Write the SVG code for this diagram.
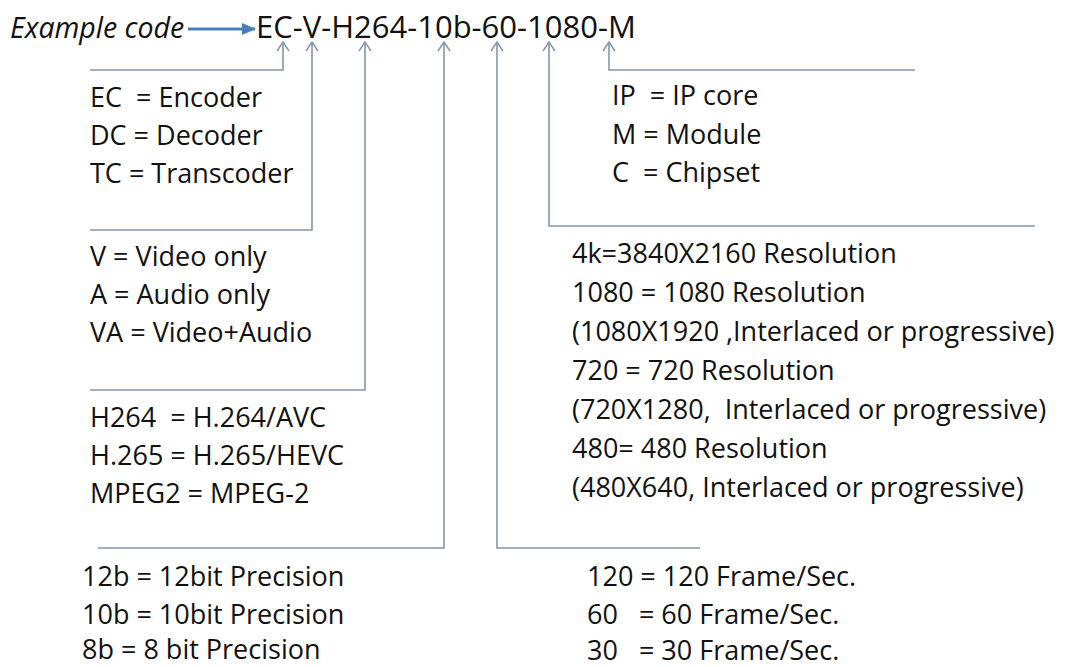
<svg xmlns="http://www.w3.org/2000/svg" width="1075" height="667" viewBox="0 0 1075 667" xml:space="preserve">
<defs>
<style>
text{font-family:"Open Sans","Noto Sans",sans-serif;font-size:27px;fill:#111;white-space:pre}
.ttl{font-size:28.5px;font-style:italic}
.code{font-size:31px}
.ln{fill:none;stroke:#8595ad;stroke-width:1.6}
.hd{fill:none;stroke:#8595ad;stroke-width:1.5}
</style>
<marker id="up" markerWidth="14" markerHeight="14" refX="7" refY="1" orient="0" markerUnits="userSpaceOnUse">
<path d="M1,10 L7,1 L13,10" class="hd"/>
</marker>
<marker id="blue" markerWidth="16" markerHeight="16" refX="14" refY="8" orient="auto" markerUnits="userSpaceOnUse">
<path d="M1,2 L15,8 L1,14 Z" fill="#4a7ebb"/>
</marker>
</defs>
<g id="header">
<text class="ttl" x="10" y="38">Example code</text>
<text class="code" x="256" y="38">EC-V-H264-10b-60-1080-M</text>
</g>
<g id="connectors">
<line x1="188" y1="29" x2="255" y2="29" stroke="#4a7ebb" stroke-width="3" marker-end="url(#blue)"/>
<polyline class="ln" points="90,70 283,70 283,42" marker-end="url(#up)"/>
<polyline class="ln" points="90,230 312,230 312,42" marker-end="url(#up)"/>
<polyline class="ln" points="90,390 365,390 365,42" marker-end="url(#up)"/>
<polyline class="ln" points="98,548 444,548 444,42" marker-end="url(#up)"/>
<polyline class="ln" points="700,548 497,548 497,42" marker-end="url(#up)"/>
<polyline class="ln" points="1035,226 549,226 549,42" marker-end="url(#up)"/>
<polyline class="ln" points="915,70 609,70 609,42" marker-end="url(#up)"/>
</g>
<g id="type">
<text x="90" y="107">EC  = Encoder</text>
<text x="90" y="145">DC = Decoder</text>
<text x="90" y="183">TC = Transcoder</text>
</g>
<g id="media">
<text x="90" y="266">V = Video only</text>
<text x="90" y="304">A = Audio only</text>
<text x="90" y="342">VA = Video+Audio</text>
</g>
<g id="codec">
<text x="90" y="427">H264  = H.264/AVC</text>
<text x="90" y="465">H.265 = H.265/HEVC</text>
<text x="90" y="503">MPEG2 = MPEG-2</text>
</g>
<g id="precision">
<text x="82" y="586">12b = 12bit Precision</text>
<text x="82" y="624">10b = 10bit Precision</text>
<text x="82" y="659">8b = 8 bit Precision</text>
</g>
<g id="product">
<text x="612" y="105">IP  = IP core</text>
<text x="612" y="144">M = Module</text>
<text x="612" y="182">C  = Chipset</text>
</g>
<g id="resolution">
<text x="572" y="263">4k=3840X2160 Resolution</text>
<text x="572" y="302">1080 = 1080 Resolution</text>
<text x="572" y="341">(1080X1920 ,Interlaced or progressive)</text>
<text x="572" y="380">720 = 720 Resolution</text>
<text x="572" y="419">(720X1280,  Interlaced or progressive)</text>
<text x="572" y="458">480= 480 Resolution</text>
<text x="572" y="497">(480X640, Interlaced or progressive)</text>
</g>
<g id="framerate">
<text x="587" y="586">120 = 120 Frame/Sec.</text>
<text x="587" y="624">60   = 60 Frame/Sec.</text>
<text x="587" y="660">30   = 30 Frame/Sec.</text>
</g>
</svg>
